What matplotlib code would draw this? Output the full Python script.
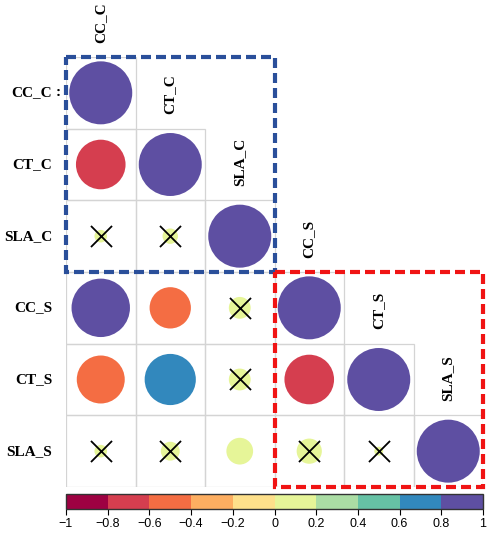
import matplotlib.pyplot as plt
import matplotlib as mpl
import numpy as np
from matplotlib.colors import ListedColormap, BoundaryNorm
from matplotlib.patches import Rectangle

# variables (same order for rows and columns)
names = ['CC_C', 'CT_C', 'SLA_C', 'CC_S', 'CT_S', 'SLA_S']

# lower triangle of the correlation matrix, row by row
corr_rows = [
    [1.00],
    [-0.62, 1.00],
    [0.04, 0.06, 1.00],
    [0.86, -0.43, 0.12, 1.00],
    [-0.58, 0.66, 0.12, -0.62, 1.00],
    [0.04, 0.09, 0.18, 0.16, 0.02, 1.00],
]

# non significant pairs (row, col) -> crossed
not_sig = [(2, 0), (2, 1), (3, 2), (4, 2), (5, 0), (5, 1), (5, 3), (5, 4)]

palette = ['#9E0142', '#D53E4F', '#F46D43', '#FDAE61', '#FEE08B',
           '#E6F598', '#ABDDA4', '#66C2A5', '#3288BD', '#5E4FA2']
bounds = np.linspace(-1, 1, 11)
cmap = ListedColormap(palette)
norm = BoundaryNorm(bounds, cmap.N, clip=True)

W, H = 491, 533
fig = plt.figure(figsize=(W / 100, H / 100), dpi=100)
ax = fig.add_axes([66 / W, 1 - 487 / H, 417 / W, 430 / H])
ax.set_xlim(0, 6)
ax.set_ylim(6, 0)
ax.axis('off')

xs, ys, vals = [], [], []
for i, row in enumerate(corr_rows):
    for j, r in enumerate(row):
        ax.add_patch(Rectangle((j, i), 1, 1, fill=False, ec='#D4D4D4', lw=0.9))
        xs.append(j + 0.5)
        ys.append(i + 0.5)
        vals.append(r)
vals = np.array(vals)

# circle area proportional to |r|; full circle about 63 px wide
full_d = 63 * 0.72
ax.scatter(xs, ys, s=(full_d ** 2) * np.abs(vals), c=vals, cmap=cmap, norm=norm,
           linewidths=0, zorder=3)

ax.scatter([c + 0.5 for r, c in not_sig], [r + 0.5 for r, c in not_sig],
           marker='x', s=230, c='black', linewidths=1.3, zorder=4)

# dashed group boxes
ax.add_patch(Rectangle((0, 0), 3, 3, fill=False, ec='#2A4F9A', lw=3,
                       ls=(0, (2.4, 1.2)), zorder=5, clip_on=False))
ax.add_patch(Rectangle((3, 3), 3, 3, fill=False, ec='#F01414', lw=3,
                       ls=(0, (2.4, 1.2)), zorder=5, clip_on=False))

lab_font = dict(family='Liberation Serif', fontweight='bold', fontsize=11)
for i, name in enumerate(names):
    ax.text(-0.2, i + 0.5, name, ha='right', va='center', clip_on=False, **lab_font)
    ax.text(i + 0.5, i - 0.2, name, ha='center', va='bottom', rotation=90,
            clip_on=False, **lab_font)
ax.text(-0.11, 0.5, ':', ha='center', va='center', clip_on=False, **lab_font)

# colour bar
cax = fig.add_axes([66 / W, 1 - 509 / H, 417 / W, 15 / H])
cb = mpl.colorbar.ColorbarBase(cax, cmap=cmap, norm=norm, orientation='horizontal',
                               ticks=bounds, spacing='proportional')
cb.outline.set_linewidth(1.0)
cb.outline.set_edgecolor('#333333')
cb.set_ticklabels(['\u22121' if t == -1 else ('0' if abs(t) < 1e-9 else
                   ('1' if t == 1 else f'{t:.1f}'.replace('-', '\u2212'))) for t in bounds])
cax.tick_params(axis='x', length=4, width=0.8, pad=2.5, labelsize=9)
for t in cax.get_xticklabels():
    t.set_fontfamily('Liberation Sans')

fig.savefig('out.png', dpi=100, facecolor='white')
